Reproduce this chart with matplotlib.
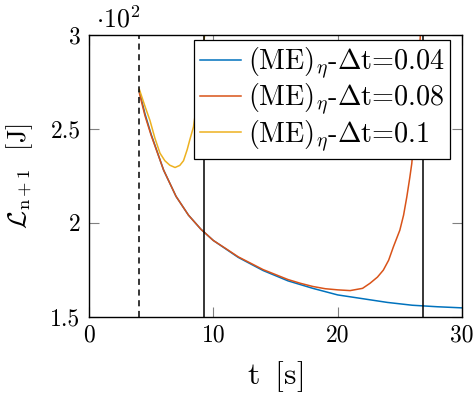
import matplotlib
matplotlib.use("Agg")
import matplotlib.pyplot as plt

plt.rcParams['font.family'] = 'serif'
plt.rcParams['font.serif'] = ['cmr10', 'DejaVu Serif']
plt.rcParams['mathtext.fontset'] = 'cm'
plt.rcParams['axes.unicode_minus'] = False

# data (values in units of 10^2 J)
t_04 = [4.05, 4.5, 5, 6, 7, 8, 9, 10, 11, 12, 14, 16, 18, 20, 22, 24, 26, 28, 30]
L_04 = [2.70, 2.58, 2.47, 2.28, 2.14, 2.04, 1.965, 1.905, 1.86, 1.815, 1.745,
        1.69, 1.65, 1.615, 1.595, 1.575, 1.56, 1.552, 1.546]

t_08 = [4.05, 4.5, 5, 6, 7, 8, 9, 10, 11, 12, 14, 16, 17, 18, 19, 20, 21, 22,
        22.6, 23.2, 23.67, 24.1, 24.48, 25.0, 25.3, 25.56, 25.8, 25.96, 26.2,
        26.4, 26.65]
L_08 = [2.69, 2.57, 2.465, 2.28, 2.14, 2.04, 1.965, 1.905, 1.862, 1.818, 1.75,
        1.697, 1.677, 1.66, 1.648, 1.642, 1.638, 1.65, 1.677, 1.71, 1.747, 1.80,
        1.871, 1.96, 2.04, 2.137, 2.24, 2.315, 2.5, 2.7, 3.0]

t_1 = [4.05, 4.5, 4.9, 5.3, 5.71, 6.1, 6.5, 6.92, 7.3, 7.6, 7.9, 8.1, 8.4,
       8.7, 9.0, 9.3]
L_1 = [2.71, 2.62, 2.545, 2.45, 2.37, 2.33, 2.306, 2.294, 2.305, 2.33, 2.39,
       2.44, 2.51, 2.65, 2.82, 3.0]

t_start = 4.05
t_limits = [9.22, 26.84]

labels = [r'(ME)$_\eta$-$\Delta$t=0.04',
          r'(ME)$_\eta$-$\Delta$t=0.08',
          r'(ME)$_\eta$-$\Delta$t=0.1']
colors = ['#0072BD', '#D95319', '#EDB120']

fig = plt.figure(figsize=(4.74, 3.94), dpi=100)
ax = fig.add_axes([0.1878, 0.1967, 0.7869, 0.7145])

ax.plot(t_04, L_04, color=colors[0], lw=1.1, label=labels[0])
ax.plot(t_08, L_08, color=colors[1], lw=1.1, label=labels[1])
ax.plot(t_1, L_1, color=colors[2], lw=1.1, label=labels[2])

ax.axvline(t_start, color='black', lw=1.1, ls=(0, (4, 3)))
for tl in t_limits:
    ax.axvline(tl, color='black', lw=1.1)

ax.set_xlim(0, 30)
ax.set_ylim(1.5, 3)
ax.set_xticks([0, 10, 20, 30])
ax.set_yticks([1.5, 2, 2.5, 3])
ax.set_yticklabels(['1.5', '2', '2.5', '3'])
ax.tick_params(direction='in', length=7, width=0.8, color='#808080',
               top=True, right=True, labelsize=17, pad=6)
for s in ax.spines.values():
    s.set_linewidth(1.0)

ax.set_xlabel(r't$\,$ [s]', fontsize=23, labelpad=9)
ax.set_ylabel(r'$\mathcal{L}_{\mathrm{n+1}}$  [J]', fontsize=19, labelpad=11)
ax.text(0.02, 1.01, r'$\cdot 10^2$', transform=ax.transAxes, fontsize=18.7,
        ha='left', va='bottom')

leg = ax.legend(loc='upper left', bbox_to_anchor=(0.2815, 0.982),
                borderaxespad=0, fontsize=20.3, handlelength=1.45,
                handletextpad=0.25, labelspacing=0.03, borderpad=0.2,
                fancybox=False, framealpha=1, edgecolor='black')
leg.get_frame().set_linewidth(0.9)

fig.savefig('out.png', dpi=100)
